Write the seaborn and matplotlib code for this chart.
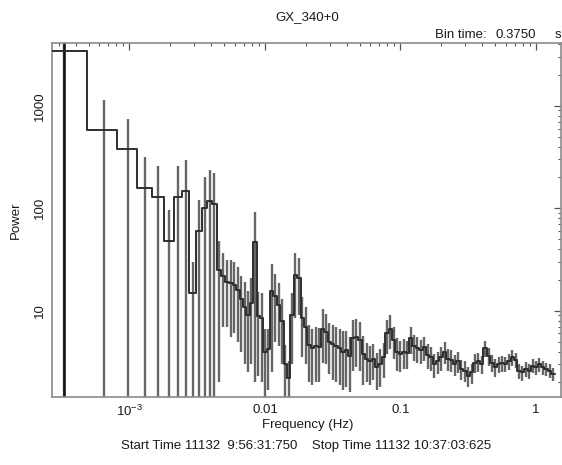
import numpy as np
import pandas as pd
import seaborn as sns
import matplotlib.pyplot as plt
from matplotlib.ticker import FixedLocator, LogLocator, NullFormatter

# power spectrum of GX_340+0
freq = [0.000326, 0.000651, 0.000977, 0.001302, 0.001628, 0.001953, 0.002279, 0.002604,
        0.00293, 0.003255, 0.003581, 0.003906, 0.004232, 0.004557, 0.004883, 0.005208,
        0.005623, 0.005957, 0.00631, 0.006683, 0.007079, 0.007499, 0.007943, 0.008414,
        0.008913, 0.009441, 0.01, 0.01059, 0.01122, 0.01189, 0.01259, 0.01334,
        0.01413, 0.01496, 0.01585, 0.01679, 0.01778, 0.01884, 0.01995, 0.02113,
        0.02239, 0.02371, 0.02512, 0.02661, 0.02818, 0.02985, 0.03162, 0.0335,
        0.03548, 0.03758, 0.03981, 0.04217, 0.04467, 0.04732, 0.05012, 0.05309,
        0.05623, 0.05957, 0.0631, 0.06683, 0.07079, 0.07499, 0.07943, 0.08414,
        0.08913, 0.09441, 0.1, 0.1059, 0.1122, 0.1189, 0.1259, 0.1334,
        0.1413, 0.1496, 0.1585, 0.1679, 0.1778, 0.1884, 0.1995, 0.2113,
        0.2239, 0.2371, 0.2512, 0.2661, 0.2818, 0.2985, 0.3162, 0.335,
        0.3548, 0.3758, 0.3981, 0.4217, 0.4467, 0.4732, 0.5012, 0.5309,
        0.5623, 0.5957, 0.631, 0.6683, 0.7079, 0.7499, 0.7943, 0.8414,
        0.8913, 0.9441, 1.0, 1.059, 1.122, 1.189, 1.259, 1.334]

power = [3400, 575, 375, 157, 128, 48, 130, 147, 15, 60, 100, 117, 110, 25, 22, 19,
         18.6, 18, 16, 13, 11, 9, 12, 47, 8.8, 8.5,
         4.0, 4.2, 15.5, 14, 11.5, 8, 3.0, 2.2, 9, 22.5,
         21, 8.5, 7, 4.6, 4.3, 4.5, 4.4, 6.7, 6.2, 5,
         4.7, 4.5, 4.3, 4.0, 4.1, 3.6, 5.4, 5.6, 5.2, 3.8,
         3.4, 3.2, 3.4, 2.8, 3.0, 3.5, 6.0, 6.6, 5.2, 4.0,
         3.8, 4.0, 3.9, 5.4, 4.5, 4.3, 4.1, 4.4, 3.7, 3.5,
         3.0, 3.2, 3.5, 4.0, 3.4, 3.3, 3.0, 3.2, 2.7, 2.6,
         2.3, 2.5, 3.1, 3.2, 3.0, 4.3, 3.6, 3.1, 2.8, 3.0,
         3.1, 3.0, 3.2, 3.5, 3.3, 2.6, 2.5, 2.7, 2.6, 2.9,
         2.8, 3.0, 2.8, 2.7, 2.6, 2.4]

error = [3400, 575, 375, 157, 128, 48, 130, 147, 15, 60, 100, 117, 110, 23, 15, 12,
         13, 12, 11, 9, 8, 6.5, 9, 45, 6.5, 6.5,
         2.6, 2.5, 13, 9, 7, 5, 1.6, 1.0, 6, 14,
         12, 5, 4, 2.6, 2.4, 2.5, 2.4, 3.6, 3.2, 2.6,
         2.6, 2.5, 2.4, 2.3, 2.3, 2.0, 2.8, 2.8, 2.6, 1.9,
         1.4, 1.3, 1.3, 1.1, 1.2, 1.3, 2.2, 2.4, 1.8, 1.4,
         1.3, 1.3, 1.2, 1.6, 1.3, 1.2, 1.1, 1.2, 1.0, 0.9,
         0.8, 0.8, 0.9, 1.0, 0.8, 0.8, 0.7, 0.75, 0.6, 0.6,
         0.5, 0.55, 0.65, 0.65, 0.6, 0.8, 0.7, 0.6, 0.55, 0.55,
         0.55, 0.5, 0.55, 0.6, 0.55, 0.45, 0.42, 0.45, 0.42, 0.45,
         0.42, 0.45, 0.42, 0.4, 0.4, 0.36]

x_ticks = [1e-3, 1e-2, 1e-1, 1]
x_ticklabels = ['$10^{-3}$', '0.01', '0.1', '1']
y_ticks = [10, 100, 1000]
y_ticklabels = ['10', '100', '1000']

sns.set_theme(style='white')
plt.rcParams['font.family'] = ['Liberation Sans', 'DejaVu Sans']
plt.rcParams['mathtext.fontset'] = 'custom'
plt.rcParams['mathtext.rm'] = 'Liberation Sans'
plt.rcParams['mathtext.it'] = 'Liberation Sans'

df = pd.DataFrame({'freq': freq, 'power': power, 'error': error})

# bin edges half way between centres, so every bin is drawn as a flat step
f = df['freq'].to_numpy()
edges = np.concatenate([[f[0] - (f[1] - f[0]) / 2], (f[1:] + f[:-1]) / 2,
                        [f[-1] + (f[-1] - f[-2]) / 2]])
step_x = np.repeat(edges, 2)[1:-1]
step_y = np.repeat(df['power'].to_numpy(), 2)

W, H = 562, 465
fig = plt.figure(figsize=(W / 100, H / 100), dpi=100)
ax = fig.add_axes([52 / W, 1 - 397 / H, (561 - 52) / W, (397 - 43) / H])

lo = np.maximum(df['power'] - df['error'], 1.0)
hi = df['power'] + df['error']
ax.vlines(df['freq'], lo, hi, color='#666666', lw=1.7, zorder=2)
ax.vlines(df['freq'][:1], lo[:1], hi[:1], color='#111111', lw=1.8, zorder=2)
sns.lineplot(x=step_x, y=step_y, sort=False, estimator=None, color='#2e2e2e',
             lw=1.4, ax=ax, zorder=3)

ax.set_xscale('log')
ax.set_yscale('log')
ax.set_xlim(2.68e-4, 1.53)
ax.set_ylim(1.44, 4100)

ax.xaxis.set_major_locator(FixedLocator(x_ticks))
ax.set_xticklabels(x_ticklabels)
ax.xaxis.set_minor_locator(LogLocator(base=10, subs=np.arange(2, 10)))
ax.xaxis.set_minor_formatter(NullFormatter())
ax.yaxis.set_major_locator(FixedLocator(y_ticks))
ax.set_yticklabels(y_ticklabels, rotation=90, va='center')
ax.yaxis.set_minor_locator(LogLocator(base=10, subs=np.arange(2, 10)))
ax.yaxis.set_minor_formatter(NullFormatter())

ax.tick_params(which='both', direction='in', top=True, right=True,
               color='#555555', labelsize=9.5, labelcolor='#1a1a1a')
ax.tick_params(which='major', length=5, width=0.9)
ax.tick_params(which='minor', length=2.5, width=0.8)
ax.tick_params(axis='x', pad=5)
ax.tick_params(axis='y', pad=4)
for s in ax.spines.values():
    s.set_color('#8a8a8a')
    s.set_linewidth(1.2)
ax.set_xlabel('')
ax.set_ylabel('')

txt = dict(fontsize=9.5, color='#1a1a1a')
fig.text(307 / W, 1 - 17 / H, 'GX_340+0', ha='center', va='center', **txt)
fig.text(435 / W, 1 - 35 / H, 'Bin time:', ha='left', va='center', **txt)
fig.text(496 / W, 1 - 35 / H, '0.3750', ha='left', va='center', **txt)
fig.text(555 / W, 1 - 35 / H, 's', ha='left', va='center', **txt)
fig.text(16 / W, 1 - 220 / H, 'Power', ha='center', va='center', rotation=90, **txt)
fig.text(308 / W, 1 - 425 / H, 'Frequency (Hz)', ha='center', va='center', **txt)
fig.text(306 / W, 1 - 446 / H,
         'Start Time 11132  9:56:31:750    Stop Time 11132 10:37:03:625',
         ha='center', va='center', **txt)

fig.savefig('out.png', dpi=100)
